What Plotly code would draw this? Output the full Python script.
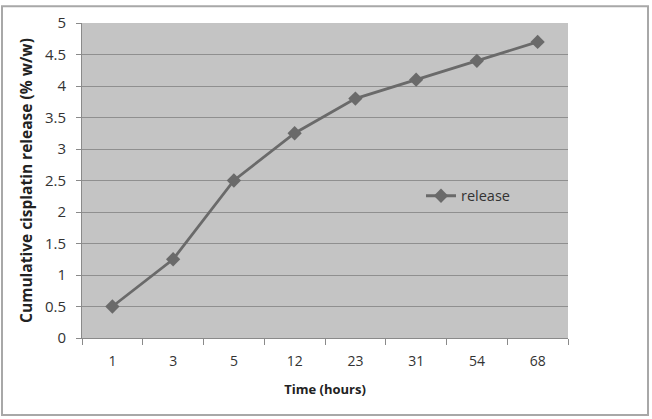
import plotly.graph_objects as go

time_labels = ["1", "3", "5", "12", "23", "31", "54", "68"]
release = [0.5, 1.25, 2.5, 3.25, 3.8, 4.1, 4.4, 4.7]

L, R, T, B = 82, 84, 19, 81
W, H = 652, 419
pw, ph = W - L - R, H - T - B

def px(x):
    return (x - L) / pw

def py(y):
    return (H - B - y) / ph

fig = go.Figure()
fig.add_trace(go.Scatter(
    x=time_labels, y=release, mode="lines+markers", name="release",
    line=dict(color="#6a6a6a", width=2.8),
    marker=dict(symbol="diamond", size=11, color="#6a6a6a"),
))

fig.update_layout(
    width=W, height=H,
    margin=dict(l=L, r=R, t=T, b=B),
    paper_bgcolor="white",
    plot_bgcolor="#c4c4c4",
    font=dict(family="Open Sans, Liberation Sans, Arial, sans-serif", size=13, color="#333333"),
    showlegend=True,
    legend=dict(x=px(421), y=py(194), xanchor="left", yanchor="middle",
                bgcolor="rgba(0,0,0,0)", font=dict(size=14.5, color="#333333")),
    xaxis=dict(
        type="category",
        title=dict(text="<b>Time (hours)</b>", font=dict(size=13, color="#222222"), standoff=16),
        showgrid=False, showline=True, linecolor="#8a8a8a", linewidth=1,
        ticks="outside", ticklen=6, tickcolor="#8a8a8a",
        tickson="boundaries", range=[-0.5, 7.5],
        tickfont=dict(size=14), ticklabelstandoff=10,
    ),
    yaxis=dict(
        title=dict(text="<b>Cumulative cisplatin release (% w/w)</b>", font=dict(size=15.5, color="#222222"), standoff=8),
        range=[0, 5], dtick=0.5, showgrid=True, gridcolor="#8f8f8f", gridwidth=1,
        showline=True, linecolor="#8a8a8a", linewidth=1,
        ticks="outside", ticklen=5, tickcolor="#8a8a8a", zeroline=False,
        tickfont=dict(size=15), ticklabelstandoff=7,
    ),
    shapes=[dict(type="rect", xref="paper", yref="paper",
                 x0=px(2), x1=px(648), y0=py(416), y1=py(2),
                 line=dict(color="#a8a8a8", width=2), layer="below")],
)

fig.write_html("out.html", config={"displayModeBar": False},
               post_script="document.body.style.margin='0px';")
